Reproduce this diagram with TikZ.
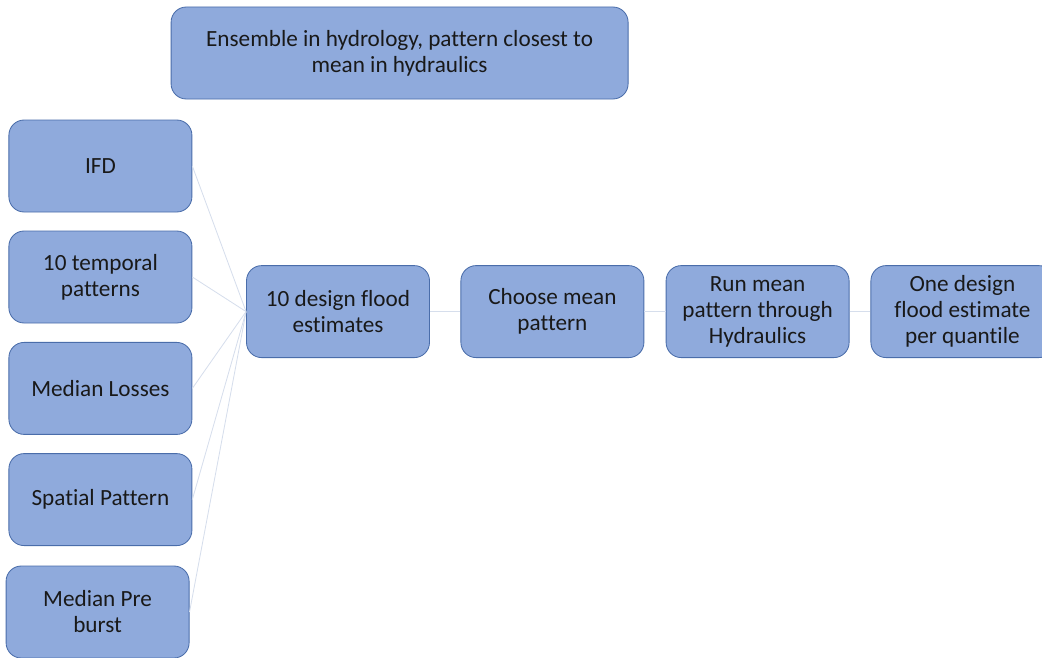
\documentclass[tikz,border=0pt]{standalone}
\usepackage{fontspec}
\setmainfont{Carlito}[Ligatures=NoCommon]
\usetikzlibrary{positioning}
\definecolor{boxfill}{HTML}{8FAADC}
\definecolor{boxline}{HTML}{4A6DAA}
\definecolor{linkcol}{HTML}{D6DEEC}
\tikzstyle{blk}=[shape=rectangle, rounded corners=0.38cm, draw=boxline, fill=boxfill, line width=0.6pt, minimum width=4.575cm, minimum height=2.3cm, align=center, text=black!90, font=\fontsize{16.5}{18.5}\selectfont]
\tikzstyle{lnk}=[draw=linkcol, line width=0.6pt]

\begin{document}
\begin{tikzpicture}[scale=1,inner sep=0.4mm]
\useasboundingbox (0,0) rectangle (26.05,-16.425);
\node (top) [blk,minimum width=11.425cm] at (9.99,-1.325) {Ensemble in hydrology, pattern closest to\\mean in hydraulics};

\node (ifd) [blk] at (2.51,-4.15) {IFD};
\node (tp) [blk] at (2.51,-6.925) {10 temporal\\patterns};
\node (ml) [blk] at (2.51,-9.71) {Median Losses};
\node (sp) [blk] at (2.51,-12.49) {Spatial Pattern};
\node (pb) [blk] at (2.44,-15.3) {Median Pre\\burst};

\node (dfe) [blk] at (8.45,-7.79) {10 design flood\\estimates};
\node (cmp) [blk] at (13.81,-7.79) {Choose mean\\pattern};
\node (run) [blk] at (18.94,-7.79) {Run mean\\pattern through\\Hydraulics};
\node (one) [blk] at (24.06,-7.79) {One design\\flood estimate\\per quantile};

\draw[lnk] (ifd.east) -- (dfe.west);
\draw[lnk] (tp.east) -- (dfe.west);
\draw[lnk] (ml.east) -- (dfe.west);
\draw[lnk] (sp.east) -- (dfe.west);
\draw[lnk] (pb.east) -- (dfe.west);

\draw[lnk] (dfe) -- (cmp);
\draw[lnk] (cmp) -- (run);
\draw[lnk] (run) -- (one);

\end{tikzpicture}
\end{document}
